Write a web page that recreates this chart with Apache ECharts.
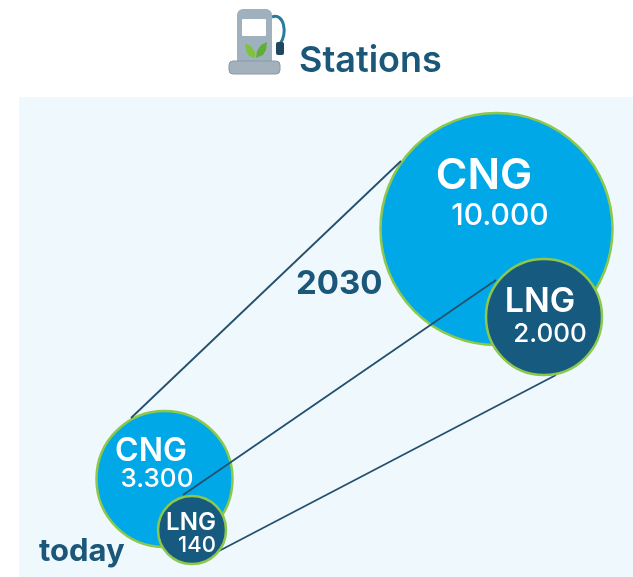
<!DOCTYPE html>
<html>
<head>
<meta charset="utf-8">
<title>Stations</title>
<style>
html, body { margin: 0; padding: 0; background: #fff; }
#chart { width: 633px; height: 577px; }
</style>
<script src="https://cdn.jsdelivr.net/npm/echarts@6/dist/echarts.min.js"></script>
</head>
<body>
<div id="chart"></div>
<script>
// bubbles, axis units are the picture's own pixels
var cngNames = ["CNG", "CNG"];
var cngValues = ["10.000", "3.300"];
var cngX = [496.5, 164.5];
var cngY = [229, 479];
var cngDiameter = [232, 136];

var lngNames = ["LNG", "LNG"];
var lngValues = ["2.000", "140"];
var lngX = [544, 192];
var lngY = [317, 530];
var lngDiameter = [116, 68];

// connectors between today and 2030: [x today, y today, x 2030, y 2030]
var linkOuter = [131, 418, 401, 161];
var linkMiddle = [183, 495, 496, 280];
var linkLower = [217, 552, 556, 375];

var fontName = "Inter";
var darkBlue = "#1b5778";

function bubbleData(xs, ys, sizes) {
    return xs.map(function (x, indx) {
        return [x, ys[indx], sizes[indx]];
    });
}

function linkSeries(name, link) {
    return {
        name: name,
        type: "line",
        z: 3,
        silent: true,
        symbol: "none",
        lineStyle: { color: "#24506e", width: 1.8 },
        data: [[link[0], link[1]], [link[2], link[3]]]
    };
}

function textSeries(name, weight, rows) {
    return {
        name: name,
        type: "scatter",
        z: 6,
        silent: true,
        symbolSize: 1,
        itemStyle: { opacity: 1, color: "rgba(0,0,0,0)" },
        data: rows.map(function (row) {
            return {
                value: [row[1], row[2]],
                label: {
                    show: true,
                    position: "inside",
                    formatter: row[0],
                    color: "#fff",
                    fontFamily: fontName,
                    fontWeight: weight,
                    fontSize: row[3]
                }
            };
        })
    };
}

var chartobj = echarts.init(document.getElementById("chart"));
var option = {
    animation: false,
    grid: {
        show: true,
        left: 19,
        right: 0,
        top: 97,
        bottom: 0,
        borderWidth: 0,
        backgroundColor: "#eef8fd"
    },
    xAxis: { type: "value", min: 19, max: 633, show: false },
    yAxis: { type: "value", min: 97, max: 577, inverse: true, show: false },
    series: [
        {
            name: "CNG",
            type: "scatter",
            z: 2,
            silent: true,
            data: bubbleData(cngX, cngY, cngDiameter),
            symbolSize: function (val) { return val[2]; },
            itemStyle: { color: "#00a8e8", borderColor: "#8cc84b", borderWidth: 2.5, opacity: 1 }
        },
        linkSeries("link outer", linkOuter),
        linkSeries("link middle", linkMiddle),
        linkSeries("link lower", linkLower),
        {
            name: "LNG",
            type: "scatter",
            z: 4,
            silent: true,
            data: bubbleData(lngX, lngY, lngDiameter),
            symbolSize: function (val) { return val[2]; },
            itemStyle: { color: "#175a80", borderColor: "#8cc84b", borderWidth: 2.5, opacity: 1 }
        },
        textSeries("names", 600, [
            [cngNames[0], 484, 176, 43],
            [lngNames[0], 540, 302, 34],
            [cngNames[1], 151, 451, 32],
            [lngNames[1], 191, 523, 24]
        ]),
        textSeries("values", 500, [
            [cngValues[0], 500, 216, 30],
            [lngValues[0], 550, 334, 26],
            [cngValues[1], 157, 479, 26],
            [lngValues[1], 197, 545, 22]
        ])
    ],
    graphic: [
        { type: "text", left: 299, top: 43, z: 10, style: { text: "Stations", fill: darkBlue, fontFamily: fontName, fontWeight: 600, fontSize: 36 } },
        { type: "text", left: 296, top: 268, z: 10, style: { text: "2030", fill: darkBlue, fontFamily: fontName, fontWeight: 700, fontSize: 33 } },
        { type: "text", left: 39, top: 536, z: 10, style: { text: "today", fill: darkBlue, fontFamily: fontName, fontWeight: 700, fontSize: 31 } },
        // pump icon
        { type: "rect", z: 10, shape: { x: 237, y: 9, width: 35, height: 53, r: [6, 6, 0, 0] }, style: { fill: "#9fb0bf" } },
        { type: "rect", z: 11, shape: { x: 242, y: 19, width: 24, height: 17, r: 1 }, style: { fill: "#fff" } },
        { type: "rect", z: 11, shape: { x: 229, y: 61, width: 51, height: 13, r: 4 }, style: { fill: "#a3b1bd", stroke: "#8799a8", lineWidth: 1 } },
        { type: "polygon", z: 11, shape: { points: [[245, 43], [251, 46], [255, 52], [255, 58], [249, 56], [246, 51]] }, style: { fill: "#7fc241" } },
        { type: "polygon", z: 11, shape: { points: [[267, 42], [261, 45], [257, 51], [256, 58], [263, 55], [266, 50]] }, style: { fill: "#5fae35" } },
        { type: "bezierCurve", z: 9, shape: { x1: 272, y1: 17, cpx1: 284, cpy1: 12, cpx2: 288, cpy2: 34, x2: 280, y2: 44 }, style: { fill: "none", stroke: "#2a7a9c", lineWidth: 3 } },
        { type: "rect", z: 11, shape: { x: 276, y: 42, width: 8, height: 13, r: 2 }, style: { fill: "#20475f" } }
    ]
};
chartobj.setOption(option);
</script>
</body>
</html>
